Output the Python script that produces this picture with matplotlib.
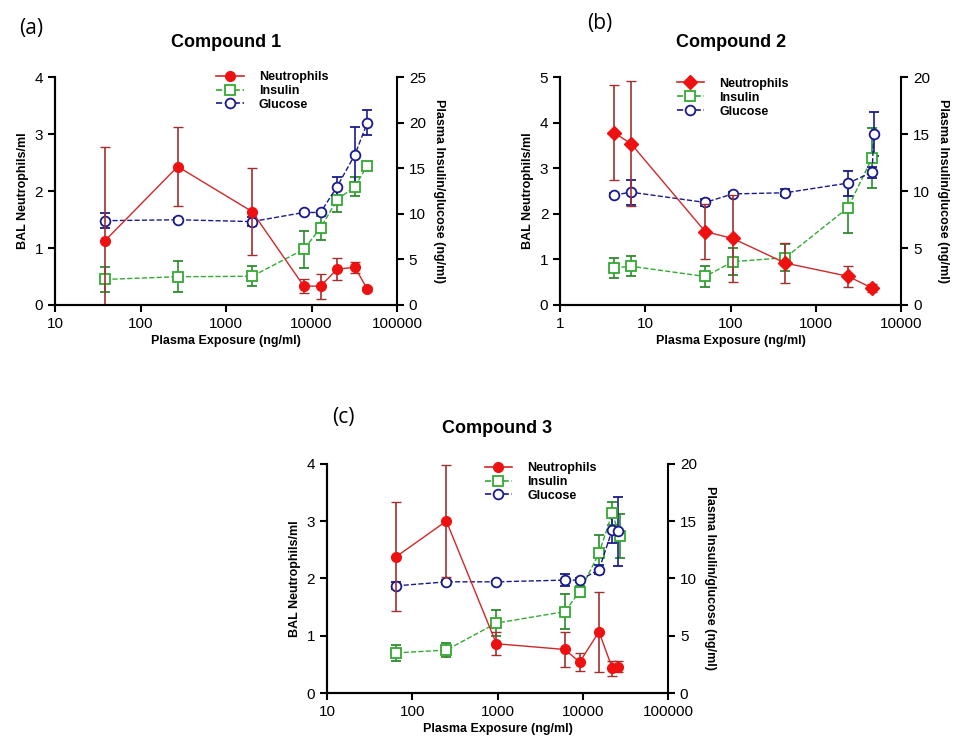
import matplotlib.pyplot as plt
from matplotlib.lines import Line2D
from matplotlib.ticker import FixedLocator, NullLocator, FixedFormatter

plt.rcParams['font.family'] = ['Liberation Sans', 'DejaVu Sans']

# ---- Compound 1 ----
c1_neu_x = [38.5, 272, 2017, 8130, 12740, 19950, 32200, 44900]
c1_neu_y = [1.13, 2.43, 1.64, 0.33, 0.33, 0.63, 0.66, 0.28]
c1_neu_e = [1.64, 0.69, 0.77, 0.12, 0.22, 0.19, 0.10, 0.04]
c1_ins_x = [38.5, 272, 2017, 8130, 12740, 19950, 32200, 44900]
c1_ins_y = [2.8, 3.1, 3.15, 6.1, 8.45, 11.55, 13.0, 15.3]
c1_ins_e = [1.4, 1.7, 1.1, 2.0, 1.3, 1.3, 1.0, 0.4]
c1_glu_x = [38.5, 272, 2017, 8130, 12740, 19950, 32200, 44900]
c1_glu_y = [9.25, 9.35, 9.15, 10.15, 10.15, 13.0, 16.5, 20.0]
c1_glu_e = [0.85, 0.2, 0.5, 0.2, 0.2, 1.0, 3.0, 1.4]

# ---- Compound 2 ----
c2_neu_x = [4.3, 6.8, 50.4, 106, 438, 2388, 4570]
c2_neu_y = [3.78, 3.54, 1.61, 1.46, 0.92, 0.63, 0.37]
c2_neu_e = [1.04, 1.37, 0.6, 0.96, 0.43, 0.23, 0.08]
c2_ins_x = [4.3, 6.8, 50.4, 106, 438, 2388, 4570]
c2_ins_y = [3.25, 3.4, 2.5, 3.8, 4.15, 8.55, 12.9]
c2_ins_e = [0.87, 0.88, 0.88, 1.2, 1.2, 2.2, 2.6]
c2_glu_x = [4.3, 6.8, 50.4, 106, 438, 2388, 4570, 4800]
c2_glu_y = [9.65, 9.9, 9.0, 9.75, 9.85, 10.7, 11.65, 15.0]
c2_glu_e = [0.2, 1.1, 0.3, 0.2, 0.3, 1.1, 0.5, 1.9]

# ---- Compound 3 ----
c3_neu_x = [65, 251, 969, 6135, 9200, 15500, 22200, 25900]
c3_neu_y = [2.38, 3.0, 0.86, 0.76, 0.54, 1.07, 0.43, 0.46]
c3_neu_e = [0.95, 0.98, 0.2, 0.3, 0.16, 0.7, 0.13, 0.1]
c3_ins_x = [65, 251, 969, 6135, 9200, 15500, 22200, 27000]
c3_ins_y = [3.5, 3.75, 6.1, 7.1, 8.85, 12.2, 15.7, 13.7]
c3_ins_e = [0.7, 0.6, 1.1, 1.5, 0.5, 1.6, 1.0, 1.9]
c3_glu_x = [65, 251, 969, 6135, 9200, 15500, 22200, 25900]
c3_glu_y = [9.35, 9.7, 9.7, 9.85, 9.85, 10.75, 14.25, 14.1]
c3_glu_e = [0.3, 0.2, 0.1, 0.5, 0.2, 0.4, 1.2, 3.0]

RED, GREEN, NAVY = '#ee1111', '#33aa33', '#1a1a8c'

fig = plt.figure(figsize=(9.59, 7.42), dpi=100)


def panel(rect, title, tag, tagxy, neu, ins, glu, xlim, xticks, ylmax, yrmax, yrstep,
          neu_marker, leg_anchor):
    ax = fig.add_axes(rect)
    ax2 = ax.twinx()
    ax.set_xscale('log')
    ax.set_xlim(*xlim)
    ax.set_ylim(0, ylmax)
    ax2.set_ylim(0, yrmax)
    ax.xaxis.set_major_locator(FixedLocator(xticks))
    ax.xaxis.set_major_formatter(FixedFormatter([str(t) for t in xticks]))
    ax.xaxis.set_minor_locator(NullLocator())
    ax.set_yticks(range(0, ylmax + 1))
    ax2.set_yticks(range(0, yrmax + 1, yrstep))

    nx, ny, ne = neu
    ix, iy, ie = ins
    gx, gy, ge = glu
    ax2.errorbar(ix, iy, yerr=ie, color=GREEN, ls='--', lw=1.0,
                 marker='s', ms=7, mfc='white', mec=GREEN, mew=1.3,
                 capsize=3.5, elinewidth=1.2, ecolor='#2e8b2e')
    ax2.errorbar(gx, gy, yerr=ge, color=NAVY, ls='--', lw=1.0,
                 marker='o', ms=7, mfc='white', mec=NAVY, mew=1.3,
                 capsize=3.5, elinewidth=1.2, ecolor=NAVY)
    # neutrophils drawn on the left scale, above the other series
    ax.set_zorder(ax2.get_zorder() + 1)
    ax.patch.set_visible(False)
    ax.errorbar(nx, ny, yerr=ne, color='#d02828', ls='-', lw=1.0,
                marker=neu_marker, ms=7, mfc=RED, mec=RED,
                capsize=3.5, elinewidth=1.2, ecolor='#a03030')

    for a in (ax, ax2):
        a.spines['top'].set_visible(False)
        for s in a.spines.values():
            s.set_linewidth(1.5)
        a.tick_params(direction='out', length=5, width=1.5, labelsize=11)
    ax.spines['right'].set_visible(False)

    ax.set_ylabel('BAL Neutrophils/ml', fontsize=9, fontweight='bold', labelpad=4)
    ax2.set_ylabel('Plasma Insulin/glucose (ng/ml)', fontsize=9, fontweight='bold',
                   rotation=270, labelpad=14)
    ax.set_xlabel('Plasma Exposure (ng/ml)', fontsize=9, fontweight='bold', labelpad=3)
    ax.set_title(title, fontsize=13, fontweight='bold', pad=22)
    fig.text(tagxy[0], tagxy[1], tag, fontsize=15, family=['Open Sans', 'DejaVu Sans'],
             ha='left', va='center')

    handles = [
        Line2D([], [], color='#d02828', ls='-', lw=1.2, marker=neu_marker, ms=7,
               mfc=RED, mec=RED),
        Line2D([], [], color=GREEN, ls='--', lw=1.2, marker='s', ms=7,
               mfc='white', mec=GREEN, mew=1.3),
        Line2D([], [], color=NAVY, ls='--', lw=1.2, marker='o', ms=7,
               mfc='white', mec=NAVY, mew=1.3),
    ]
    leg = ax.legend(handles, ['Neutrophils', 'Insulin', 'Glucose'],
                    loc='upper left', bbox_to_anchor=leg_anchor, frameon=False,
                    fontsize=9, handlelength=2.2, labelspacing=0.15,
                    borderpad=0.1, handletextpad=1.2)
    for t in leg.get_texts():
        t.set_fontweight('bold')
    return ax


panel([0.0574, 0.589, 0.3566, 0.307], 'Compound 1', '(a)', (0.020, 0.962),
      (c1_neu_x, c1_neu_y, c1_neu_e), (c1_ins_x, c1_ins_y, c1_ins_e),
      (c1_glu_x, c1_glu_y, c1_glu_e), (10, 100000),
      [10, 100, 1000, 10000, 100000], 4, 25, 5, 'o', (0.45, 1.06))

panel([0.584, 0.589, 0.3556, 0.307], 'Compound 2', '(b)', (0.612, 0.968),
      (c2_neu_x, c2_neu_y, c2_neu_e), (c2_ins_x, c2_ins_y, c2_ins_e),
      (c2_glu_x, c2_glu_y, c2_glu_e), (1, 10000),
      [1, 10, 100, 1000, 10000], 5, 20, 5, 'D', (0.32, 1.03))

panel([0.341, 0.066, 0.3556, 0.309], 'Compound 3', '(c)', (0.346, 0.438),
      (c3_neu_x, c3_neu_y, c3_neu_e), (c3_ins_x, c3_ins_y, c3_ins_e),
      (c3_glu_x, c3_glu_y, c3_glu_e), (10, 100000),
      [10, 100, 1000, 10000, 100000], 4, 20, 5, 'o', (0.44, 1.04))

fig.savefig('out.png', dpi=100)
